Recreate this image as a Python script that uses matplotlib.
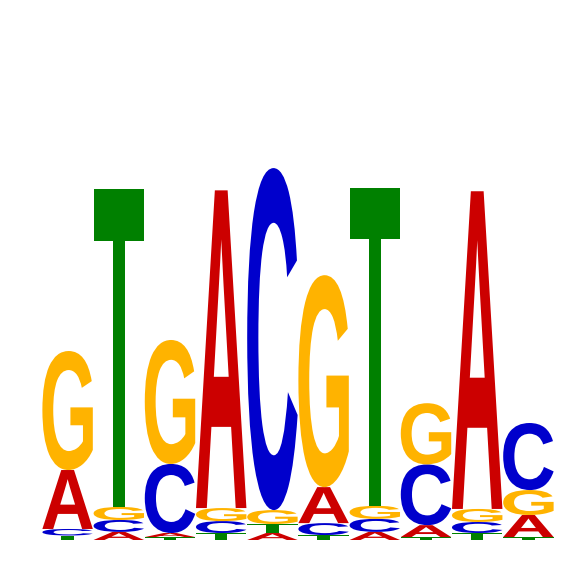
import numpy as np
import matplotlib
matplotlib.use("Agg")
import matplotlib.pyplot as plt
from matplotlib.textpath import TextPath
from matplotlib.font_manager import FontProperties
from matplotlib.patches import PathPatch
from matplotlib.transforms import Affine2D

# information content per letter (bits) for each position
positions = list(range(1, 11))
A = [0.262, 0.036, 0.018, 1.412, 0.031, 0.160, 0.036, 0.053, 1.412, 0.098]
C = [0.029, 0.053, 0.307, 0.053, 1.520, 0.053, 0.058, 0.270, 0.049, 0.298]
G = [0.529, 0.058, 0.551, 0.058, 0.062, 0.942, 0.058, 0.272, 0.058, 0.111]
T = [0.020, 1.412, 0.013, 0.031, 0.040, 0.022, 1.412, 0.013, 0.031, 0.013]

colors = {"A": "#CC0000", "C": "#0000CC", "G": "#FFB300", "T": "#008000"}

fig = plt.figure(figsize=(5.66, 5.66), dpi=100)
ax = fig.add_axes([42 / 566, 26 / 566, 512 / 566, 450 / 566])
ax.set_xlim(0.5, 10.5)
ax.set_ylim(0, 2)
ax.axis("off")

fp = FontProperties(family="Liberation Sans", weight="bold")
glyphs = {}
for L in "ACGT":
    p = TextPath((0, 0), L, size=1, prop=fp)
    e = p.get_extents()
    glyphs[L] = (p, e.x0, e.x1, e.y0, e.y1)

W = 0.985
for i, pos in enumerate(positions):
    vals = {"A": A[i], "C": C[i], "G": G[i], "T": T[i]}
    order = sorted(vals, key=lambda k: vals[k])
    y = 0.0
    for L in order:
        h = vals[L]
        p, x0, x1, y0, y1 = glyphs[L]
        tr = (Affine2D().translate(-x0, -y0)
              .scale(W / (x1 - x0), h / (y1 - y0))
              .translate(pos - W / 2, y)) + ax.transData
        ax.add_patch(PathPatch(p, transform=tr, facecolor=colors[L],
                               edgecolor="none", lw=0))
        y += h

fig.savefig("out.png", dpi=100)
